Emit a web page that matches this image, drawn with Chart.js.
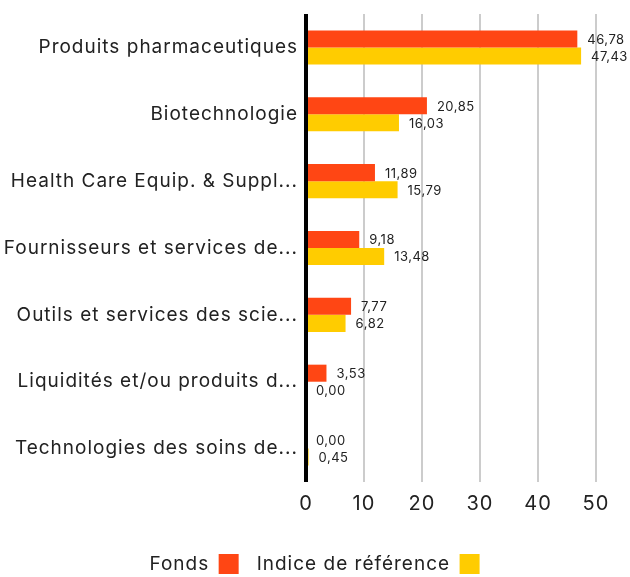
<!DOCTYPE html>
<html>
<head>
<meta charset="utf-8">
<script src="https://cdn.jsdelivr.net/npm/chart.js@4.4.0/dist/chart.umd.min.js"></script>
<style>
html,body{margin:0;padding:0;background:#fff;}
#wrap{width:630px;height:577px;position:relative;}
</style>
</head>
<body>
<div id="wrap"><canvas id="c" width="630" height="577"></canvas></div>
<script>
const categories = [
  "Produits pharmaceutiques",
  "Biotechnologie",
  "Health Care Equip. & Suppl...",
  "Fournisseurs et services de...",
  "Outils et services des scie...",
  "Liquidités et/ou produits d...",
  "Technologies des soins de..."
];
const fondsValues = [46.78, 20.85, 11.89, 9.18, 7.77, 3.53, 0.00];
const indiceValues = [47.43, 16.03, 15.79, 13.48, 6.82, 0.00, 0.45];
const seriesNames = ["Fonds", "Indice de référence"];
const xTicks = [0, 10, 20, 30, 40, 50];

const FONT = "Inter, 'Noto Sans', sans-serif";

const spacing = {
  id: 'spacing',
  beforeDraw(chart) { chart.ctx.letterSpacing = '1px'; },
  afterDraw(chart) { chart.ctx.letterSpacing = '0px'; }
};

const legendShift = {
  id: 'legendShift',
  afterLayout(chart) {
    const lg = chart.legend;
    if (lg) { lg.left += 14; lg.right += 14; }
  }
};

const valueLabels = {
  id: 'valueLabels',
  afterDatasetsDraw(chart) {
    const ctx = chart.ctx;
    ctx.save();
    ctx.letterSpacing = '0.5px';
    ctx.font = "13px " + FONT;
    ctx.fillStyle = '#222';
    ctx.textAlign = 'left';
    ctx.textBaseline = 'middle';
    chart.data.datasets.forEach((ds, i) => {
      const meta = chart.getDatasetMeta(i);
      meta.data.forEach((bar, j) => {
        const v = ds.data[j];
        ctx.fillText(v.toFixed(2).replace('.', ','), bar.x + 10, bar.y + 1);
      });
    });
    ctx.restore();
  }
};

new Chart(document.getElementById('c'), {
  type: 'bar',
  data: {
    labels: categories,
    datasets: [
      { label: seriesNames[0], data: fondsValues, backgroundColor: '#FF4614', borderWidth: 0 },
      { label: seriesNames[1], data: indiceValues, backgroundColor: '#FFCC00', borderWidth: 0 }
    ]
  },
  options: {
    indexAxis: 'y',
    responsive: false,
    animation: false,
    layout: { padding: { top: 14, right: 5, left: 0, bottom: -7 } },
    scales: {
      x: {
        min: 0, max: 55,
        afterBuildTicks(s) { s.ticks = xTicks.map(v => ({ value: v })); },
        afterFit(s) { s.height = 54; s.paddingLeft = 0; s.paddingRight = 0; },
        border: { display: false },
        grid: {
          drawTicks: false,
          color: c => c.tick && c.tick.value === 0 ? '#000' : '#cccccc',
          lineWidth: c => c.tick && c.tick.value === 0 ? 4 : 2
        },
        ticks: { color: '#222', font: { size: 20, family: FONT }, padding: 10 }
      },
      y: {
        afterFit(s) { s.width = 306; s.paddingTop = 0; s.paddingBottom = 0; },
        border: { display: false },
        grid: { display: false, drawTicks: false },
        ticks: { color: '#222', font: { size: 19, family: FONT }, padding: 8 }
      }
    },
    datasets: { bar: { categoryPercentage: 0.51, barPercentage: 1 } },
    plugins: {
      tooltip: { enabled: false },
      legend: {
        position: 'bottom',
        rtl: true,
        reverse: true,
        labels: { boxWidth: 20, boxHeight: 20, color: '#222', padding: 18, font: { size: 19, family: FONT } }
      }
    }
  },
  plugins: [spacing, legendShift, valueLabels]
});
</script>
</body>
</html>
